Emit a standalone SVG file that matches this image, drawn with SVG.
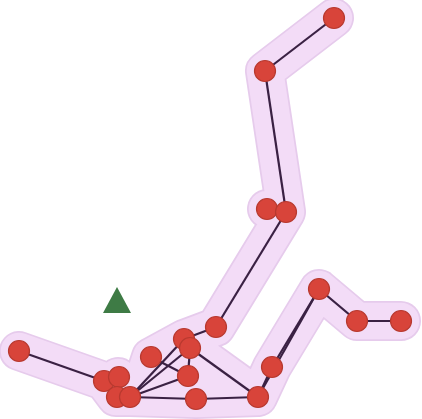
<svg xmlns="http://www.w3.org/2000/svg" width="422" height="419" viewBox="0 0 422 419">
<style>
.hb{fill:none;stroke:#e6cbec;stroke-width:40;stroke-linecap:round;stroke-linejoin:round}
.hf{fill:none;stroke:#f3dcf7;stroke-width:36.5;stroke-linecap:round;stroke-linejoin:round}
.e{stroke:#3a2143;stroke-width:2.2;fill:none}
.n{fill:#d8443a;stroke:#b8392f;stroke-width:1.2}
</style>
<defs>
<path id="hull" d="M334,18 L265,71 L286,212 L267,209 M286,212 L216,327 L184,339 L130,397 L116,397 L104,381 L19,351 M118,377 L130,397 L196,399 L258,397 L272,367 L319,289 L357,321 L401,321 M190,348 L258,397 M151,357 L188,376 L130,397 M190,348 L188,376 M130,397 L190,348 M150,385 L185,360 M140,390 L151,357 L184,339"/>
</defs>
<g id="hull-area">
<use href="#hull" class="hb"/>
<use href="#hull" class="hf"/>
</g>
<g id="connectors">
<line class="e" x1="334" y1="18" x2="265" y2="71"/>
<line class="e" x1="265" y1="71" x2="286" y2="212"/>
<line class="e" x1="286" y1="212" x2="216" y2="327"/>
<line class="e" x1="216" y1="327" x2="184" y2="339"/>
<line class="e" x1="130" y1="397" x2="184" y2="339"/>
<line class="e" x1="130" y1="397" x2="190" y2="348"/>
<line class="e" x1="130" y1="397" x2="188" y2="376"/>
<line class="e" x1="130" y1="397" x2="196" y2="399"/>
<line class="e" x1="151" y1="357" x2="188" y2="376"/>
<line class="e" x1="190" y1="348" x2="188" y2="376"/>
<line class="e" x1="190" y1="348" x2="258" y2="397"/>
<line class="e" x1="196" y1="399" x2="258" y2="397"/>
<line class="e" x1="258" y1="397" x2="272" y2="367"/>
<line class="e" x1="272" y1="367" x2="319" y2="289"/>
<line class="e" x1="258" y1="397" x2="319" y2="289"/>
<line class="e" x1="319" y1="289" x2="357" y2="321"/>
<line class="e" x1="357" y1="321" x2="401" y2="321"/>
<line class="e" x1="19" y1="351" x2="104" y2="381"/>
</g>
<g id="marker">
<polygon points="103,313 117,287 131,313" fill="#3e7b45"/>
</g>
<g id="n1"><circle class="n" cx="334" cy="18" r="10.5"/></g>
<g id="n2"><circle class="n" cx="265" cy="71" r="10.5"/></g>
<g id="n3"><circle class="n" cx="267" cy="209" r="10.5"/></g>
<g id="n4"><circle class="n" cx="286" cy="212" r="10.5"/></g>
<g id="n5"><circle class="n" cx="216" cy="327" r="10.5"/></g>
<g id="n6"><circle class="n" cx="184" cy="339" r="10.5"/></g>
<g id="n7"><circle class="n" cx="190" cy="348" r="10.5"/></g>
<g id="n8"><circle class="n" cx="151" cy="357" r="10.5"/></g>
<g id="n9"><circle class="n" cx="188" cy="376" r="10.5"/></g>
<g id="n10"><circle class="n" cx="19" cy="351" r="10.5"/></g>
<g id="n11"><circle class="n" cx="104" cy="381" r="10.5"/></g>
<g id="n12"><circle class="n" cx="119" cy="377" r="10.5"/></g>
<g id="n13"><circle class="n" cx="117" cy="397" r="10.5"/></g>
<g id="n14"><circle class="n" cx="130" cy="397" r="10.5"/></g>
<g id="n15"><circle class="n" cx="196" cy="399" r="10.5"/></g>
<g id="n16"><circle class="n" cx="258" cy="397" r="10.5"/></g>
<g id="n17"><circle class="n" cx="272" cy="367" r="10.5"/></g>
<g id="n18"><circle class="n" cx="319" cy="289" r="10.5"/></g>
<g id="n19"><circle class="n" cx="357" cy="321" r="10.5"/></g>
<g id="n20"><circle class="n" cx="401" cy="321" r="10.5"/></g>
</svg>
